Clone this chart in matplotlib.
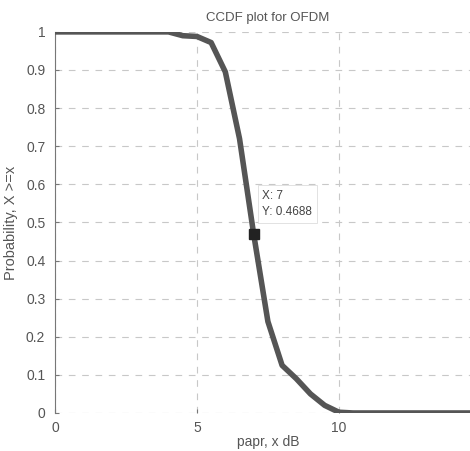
import matplotlib
matplotlib.use("Agg")
import matplotlib.pyplot as plt

# CCDF of PAPR
papr_db = [0, 0.5, 1, 1.5, 2, 2.5, 3, 3.5, 4, 4.5, 5, 5.5, 6, 6.5, 7, 7.5,
           8, 8.5, 9, 9.5, 10, 10.5, 11, 11.5, 12, 12.5, 13, 13.5, 14, 14.5, 15]
ccdf = [1, 1, 1, 1, 1, 1, 1, 1, 1, 0.99, 0.988, 0.972, 0.895, 0.72, 0.4688, 0.24,
        0.125, 0.09, 0.05, 0.02, 0.002, 0, 0, 0, 0, 0, 0, 0, 0, 0, 0]
cursor_x = 7
cursor_y = 0.4688
xticks = [0, 5, 10]
yticks = [0, 0.1, 0.2, 0.3, 0.4, 0.5, 0.6, 0.7, 0.8, 0.9, 1]
ytick_labels = ["0", "0.1", "0.2", "0.3", "0.4", "0.5", "0.6", "0.7", "0.8", "0.9", "1"]

plt.rcParams["font.family"] = ["Liberation Sans", "DejaVu Sans"]
txt = "#555555"

fig = plt.figure(figsize=(4.7, 4.51), dpi=100)
ax = fig.add_axes([0.117, 0.0843, 0.906, 0.845])

ax.plot(papr_db, ccdf, color="#555555", lw=4, solid_joinstyle="round", zorder=3)
ax.plot([cursor_x], [cursor_y], marker="s", ms=7, color="#222222", zorder=4)
ax.text(cursor_x + 0.3, cursor_y + 0.08, "X: 7\nY: 0.4688", fontsize=8.5, color="#444444",
        va="center", ha="left", linespacing=1.5,
        bbox=dict(boxstyle="square,pad=0.4", fc="white", ec="#dddddd", lw=0.6))

ax.set_xlim(0, 15)
ax.set_ylim(0, 1)
ax.set_xticks(xticks)
ax.set_yticks(yticks)
ax.set_yticklabels(ytick_labels)
ax.grid(True, ls=(0, (6, 6)), color="#c8c8c8", lw=0.8)
for s in ["top", "right", "bottom"]:
    ax.spines[s].set_visible(False)
ax.spines["left"].set_color("#777777")
ax.tick_params(direction="in", length=3, colors="#777777", labelcolor=txt, labelsize=10)
ax.tick_params(axis="y", pad=7)
ax.tick_params(axis="x", pad=6)

ax.set_title("CCDF plot for OFDM", fontsize=9.5, color=txt, pad=8)
ax.set_xlabel("papr, x dB", fontsize=10, color=txt, va="top")
ax.xaxis.set_label_coords(0.5, -0.058)
ax.set_ylabel("Probability, X >=x", fontsize=10.5, color=txt, labelpad=6)

fig.savefig("out.png", dpi=100, facecolor="white")
